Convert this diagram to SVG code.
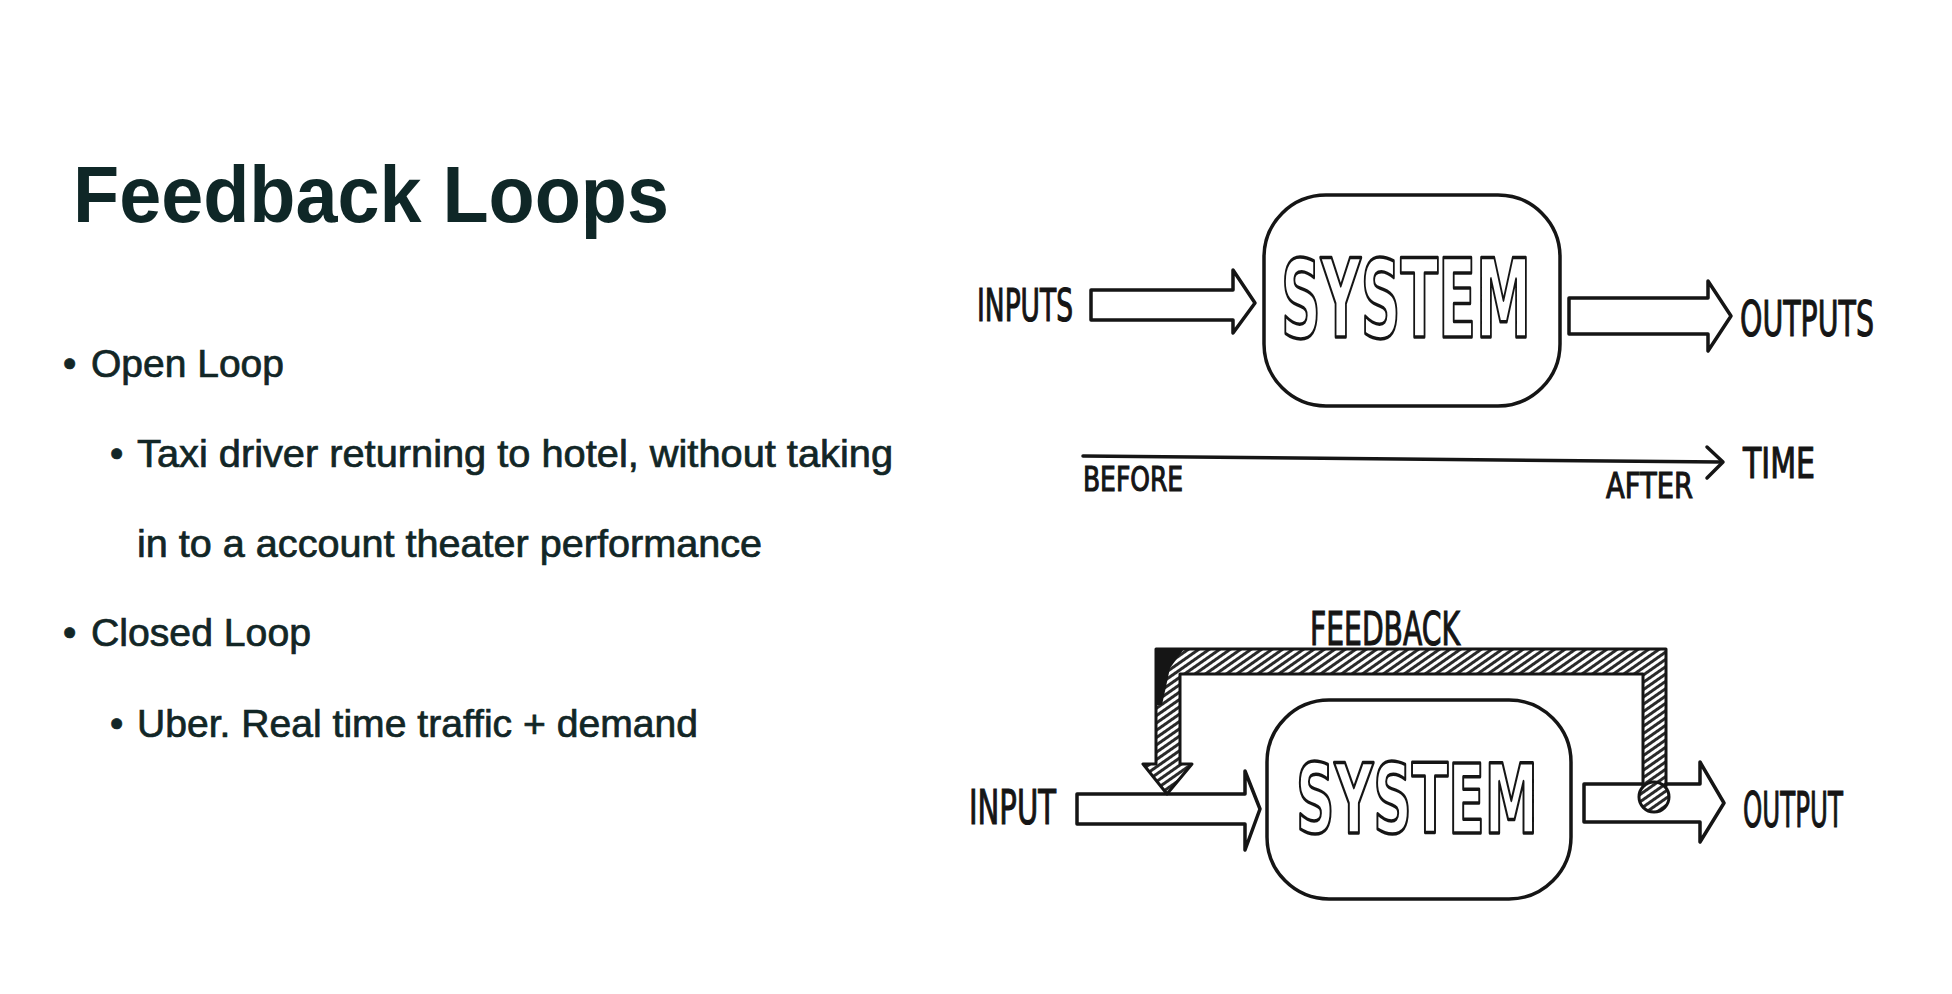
<svg xmlns="http://www.w3.org/2000/svg" width="1952" height="994" viewBox="0 0 1952 994">
<style>
.title{font-family:"Liberation Sans",Arial,sans-serif;font-weight:700;font-size:80px;fill:#0f2727}
.body{font-family:"Liberation Sans",Arial,sans-serif;font-size:38px;fill:#122626;stroke:#122626;stroke-width:0.7}
.hand{font-family:"DejaVu Sans","Liberation Sans",sans-serif;fill:#151515;stroke:#151515;stroke-width:1.2}
.sys{font-family:"DejaVu Sans","Liberation Sans",sans-serif;font-weight:700;fill:#fff;stroke:#151515;stroke-width:3.5;stroke-linejoin:round}
.box{fill:#fff;stroke:#151515;stroke-width:3.5}
.arrow{fill:#fff;stroke:#151515;stroke-width:3.5;stroke-linejoin:round}
.line{fill:none;stroke:#151515;stroke-width:3.5;stroke-linecap:round;stroke-linejoin:round}
.hatched{fill:url(#hatch);stroke:#151515;stroke-width:3;stroke-linejoin:round}
</style>
<defs>
<pattern id="hatch" patternUnits="userSpaceOnUse" width="6" height="6" patternTransform="rotate(55)">
<rect width="6" height="6" fill="#fff"/>
<line x1="1.5" y1="0" x2="1.5" y2="6" stroke="#2a2a2a" stroke-width="3"/>
</pattern>
</defs>
<rect width="1952" height="994" fill="#fff"/>

<g id="title">
<text class="title" x="73" y="222" textLength="596" lengthAdjust="spacingAndGlyphs">Feedback Loops</text>
</g>

<g id="bullets">
<text class="body" x="63" y="377">•</text>
<text class="body" x="91" y="377" textLength="193" lengthAdjust="spacingAndGlyphs">Open Loop</text>
<text class="body" x="110" y="467">•</text>
<text class="body" x="137" y="467" textLength="756" lengthAdjust="spacingAndGlyphs">Taxi driver returning to hotel, without taking</text>
<text class="body" x="137" y="557" textLength="625" lengthAdjust="spacingAndGlyphs">in to a account theater performance</text>
<text class="body" x="63" y="646">•</text>
<text class="body" x="91" y="646" textLength="220" lengthAdjust="spacingAndGlyphs">Closed Loop</text>
<text class="body" x="110" y="737">•</text>
<text class="body" x="137" y="737" textLength="561" lengthAdjust="spacingAndGlyphs">Uber. Real time traffic + demand</text>
</g>

<g id="open-loop">
<g id="system-open">
<rect class="box" x="1264" y="195" width="296" height="211" rx="62" ry="62"/>
<text class="sys" x="1281" y="337" font-size="108" textLength="250" lengthAdjust="spacingAndGlyphs">SYSTEM</text>
</g>
<g id="inputs-label"><text class="hand" x="977" y="321" font-size="44" textLength="96" lengthAdjust="spacingAndGlyphs">INPUTS</text></g>
<g id="outputs-label"><text class="hand" x="1740" y="336" font-size="50" textLength="134" lengthAdjust="spacingAndGlyphs">OUTPUTS</text></g>
<g id="before-label"><text class="hand" x="1083" y="491" font-size="34" textLength="100" lengthAdjust="spacingAndGlyphs">BEFORE</text></g>
<g id="after-label"><text class="hand" x="1606" y="498" font-size="36" textLength="87" lengthAdjust="spacingAndGlyphs">AFTER</text></g>
<g id="time-label"><text class="hand" x="1743" y="478" font-size="42" textLength="72" lengthAdjust="spacingAndGlyphs">TIME</text></g>
</g>

<g id="closed-loop">
<g id="system-closed">
<rect class="box" x="1267" y="700" width="304" height="199" rx="62" ry="62"/>
<text class="sys" x="1296" y="833" font-size="96" textLength="242" lengthAdjust="spacingAndGlyphs">SYSTEM</text>
</g>
<g id="input-label"><text class="hand" x="969" y="824" font-size="48" textLength="87" lengthAdjust="spacingAndGlyphs">INPUT</text></g>
<g id="output-label"><text class="hand" x="1743" y="827" font-size="50" textLength="100" lengthAdjust="spacingAndGlyphs">OUTPUT</text></g>
<g id="feedback-label"><text class="hand" x="1310" y="645" font-size="46" textLength="150" lengthAdjust="spacingAndGlyphs">FEEDBACK</text></g>
</g>

<g id="connectors">
<path class="arrow" d="M1091,290 L1233,290 L1233,270 L1255,303 L1233,333 L1233,320 L1091,320 Z"/>
<path class="arrow" d="M1569,298 L1708,298 L1708,281 L1731,316 L1708,351 L1708,334 L1569,334 Z"/>
<path class="line" d="M1083,456 L1400,459 L1721,462"/>
<path class="line" d="M1707,447 L1723,462 L1707,478"/>
<path class="arrow" d="M1077,794 L1245,794 L1245,771 L1260,809 L1245,850 L1245,824 L1077,824 Z"/>
<path class="arrow" d="M1584,784 L1700,784 L1700,762 L1724,803 L1700,842 L1700,822 L1584,822 Z"/>
<path class="hatched" d="M1143,764 L1156,764 L1156,649 L1666,649 L1666,786 L1643,786 L1643,674 L1180,674 L1180,764 L1192,764 L1167,794 Z"/>
<path d="M1156,649 L1184,649 L1170,668 L1162,705 L1156,705 Z" fill="#151515"/>
<circle class="hatched" cx="1654" cy="797" r="15"/>
</g>
</svg>
